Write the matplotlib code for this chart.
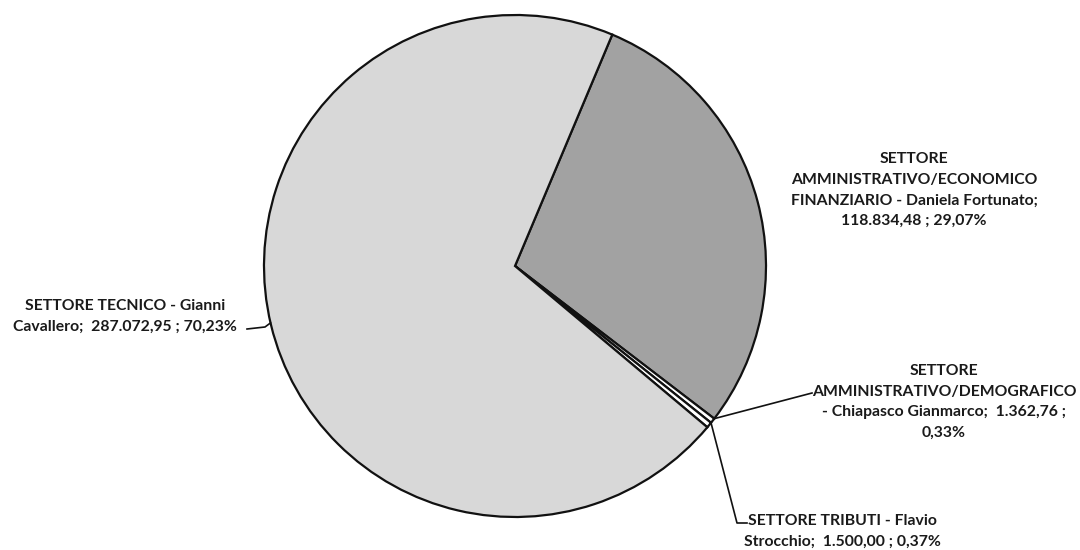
import numpy as np
import matplotlib
matplotlib.use("Agg")
import matplotlib.pyplot as plt

# Values in order, clockwise from the top boundary
labels = [
    "SETTORE\nAMMINISTRATIVO/ECONOMICO\nFINANZIARIO - Daniela Fortunato;\n118.834,48 ; 29,07%",
    "SETTORE\nAMMINISTRATIVO/DEMOGRAFICO\n- Chiapasco Gianmarco;  1.362,76 ;\n0,33%",
    "SETTORE TRIBUTI - Flavio\nStrocchio;  1.500,00 ; 0,37%",
    "SETTORE TECNICO - Gianni\nCavallero;  287.072,95 ; 70,23%",
]
values = [118834.48, 1362.76, 1500.00, 287072.95]
colors = ["#a2a2a2", "#ffffff", "#ffffff", "#d8d8d8"]

W, H = 1080, 550
cx, cy, r = 515, 266, 251

fig = plt.figure(figsize=(W / 100, H / 100), dpi=100)
ax = fig.add_axes([(cx - r) / W, 1 - (cy + r) / H, 2 * r / W, 2 * r / H])

wedges, _ = ax.pie(
    values,
    colors=colors,
    startangle=67.2,
    counterclock=False,
    radius=1,
    center=(0, 0),
    wedgeprops=dict(edgecolor="#111111", linewidth=1.6),
    frame=False,
)
ax.set_xlim(-1, 1)
ax.set_ylim(-1, 1)
ax.set_aspect("equal")
ax.axis("off")


def px(x, y):
    return ((x - cx) / r, (cy - y) / r)


font = dict(family=["Lato", "DejaVu Sans"], fontsize=11.3, fontweight="bold",
            color="#1a1a1a", linespacing=1.6, ha="center", va="center")

# label positions in pixel space
pos = [(914, 190), (944, 402), (842, 531), (125, 316)]
for lab, (x, y) in zip(labels, pos):
    tx, ty = px(x, y)
    ax.text(tx, ty, lab, clip_on=False, **font)

line_kw = dict(color="#111111", linewidth=1.2, clip_on=False)


def tip(w):
    a = np.deg2rad(w.theta2)
    return np.cos(a), np.sin(a)


# demografico leader
ex, ey = tip(wedges[1])
x1, y1 = px(812, 393)
ax.plot([ex, x1], [ey, y1], **line_kw)

# tributi leader
ex, ey = tip(wedges[2])
x1, y1 = px(737, 523)
x2, y2 = px(747, 523)
ax.plot([ex, x1, x2], [ey, y1, y2], **line_kw)

# tecnico leader
a = np.deg2rad(180 + 13.1)
ex, ey = np.cos(a), np.sin(a)
x1, y1 = px(265, 327)
x2, y2 = px(247, 329)
ax.plot([ex, x1, x2], [ey, y1, y2], **line_kw)

fig.savefig("out.png", dpi=100, facecolor="white")
